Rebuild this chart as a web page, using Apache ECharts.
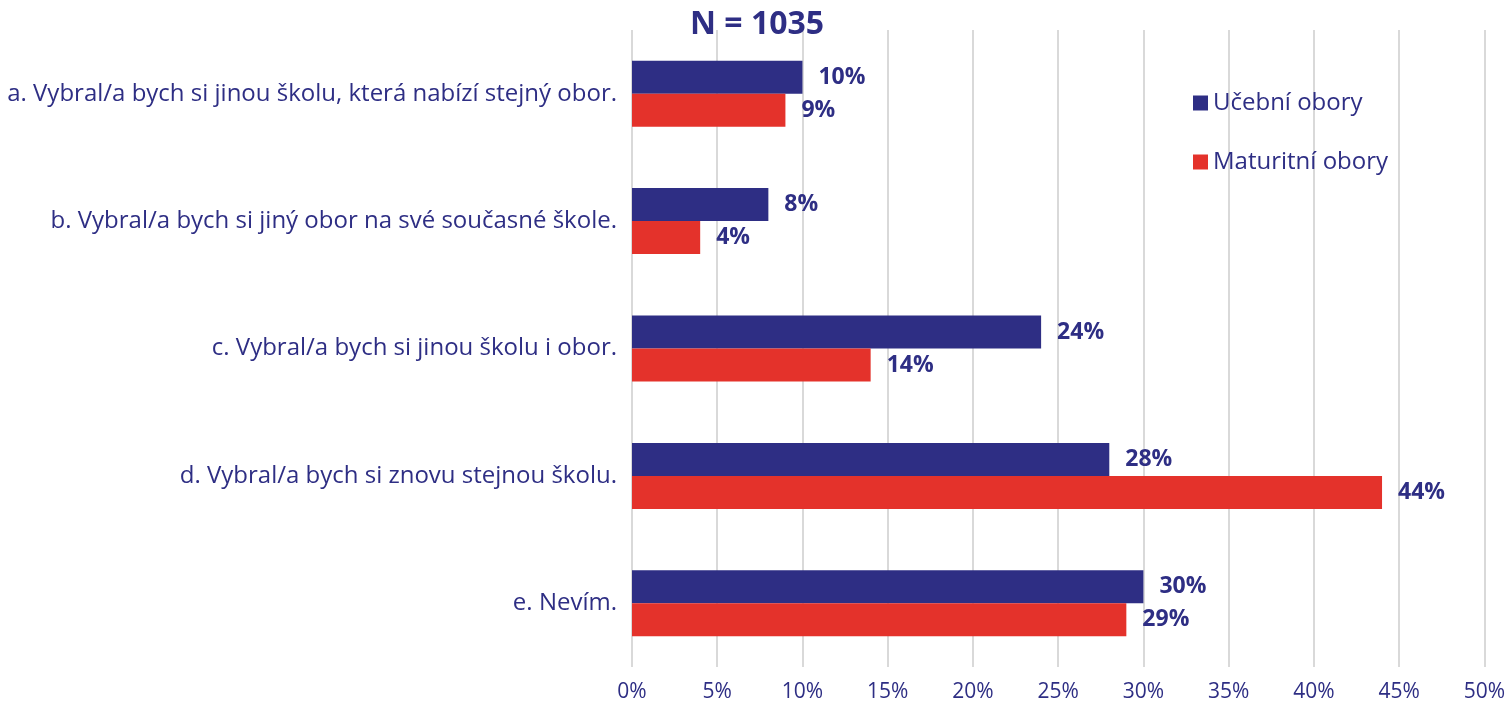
<!DOCTYPE html>
<html>
<head>
<meta charset="utf-8">
<script src="https://cdn.jsdelivr.net/npm/echarts@6/dist/echarts.min.js"></script>
<style>
  html, body { margin: 0; padding: 0; background: #fff; }
  #chart { width: 1508px; height: 706px; }
</style>
</head>
<body>
<div id="chart"></div>
<script>
const categories = [
  "a. Vybral/a bych si jinou školu, která nabízí stejný obor.",
  "b. Vybral/a bych si jiný obor na své současné škole.",
  "c. Vybral/a bych si jinou školu i obor.",
  "d. Vybral/a bych si znovu stejnou školu.",
  "e. Nevím."
];
const ucebni = [10, 8, 24, 28, 30];
const maturitni = [9, 4, 14, 44, 29];
const xTicks = [0, 5, 10, 15, 20, 25, 30, 35, 40, 45, 50];

const navy = "#2e2e84";
const red = "#e4322b";
const font = "Open Sans";

const chart = echarts.init(document.getElementById("chart"));

const labelStyle = {
  show: true,
  position: "right",
  distance: 16,
  formatter: "{c}%",
  color: navy,
  fontFamily: font,
  fontWeight: "bold",
  fontSize: 23
};

chart.setOption({
  animation: false,
  title: {
    text: "N = 1035",
    left: 752,
    textAlign: "center",
    top: 4,
    textStyle: { color: navy, fontFamily: font, fontWeight: "bold", fontSize: 32 }
  },
  legend: {
    orient: "vertical",
    left: 1188,
    top: 86,
    itemWidth: 15,
    itemHeight: 15,
    itemGap: 35,
    icon: "rect",
    textStyle: { color: navy, fontFamily: font, fontSize: 24 },
    data: ["Učební obory", "Maturitní obory"]
  },
  grid: { left: 632, right: 23, top: 30, bottom: 39, containLabel: false },
  xAxis: {
    type: "value",
    min: xTicks[0],
    max: xTicks[xTicks.length - 1],
    interval: 5,
    axisLine: { show: false },
    axisTick: { show: false },
    splitLine: { lineStyle: { color: "#d9d9d9", width: 2 } },
    axisLabel: {
      formatter: "{value}%",
      color: navy,
      fontFamily: font,
      fontSize: 21,
      margin: 15
    }
  },
  yAxis: {
    type: "category",
    inverse: true,
    data: categories,
    axisLine: { show: false },
    axisTick: { show: false },
    axisLabel: { color: navy, fontFamily: font, fontSize: 24, margin: 15 }
  },
  series: [
    {
      name: "Učební obory",
      type: "bar",
      data: ucebni,
      barWidth: 33,
      barGap: "0%",
      itemStyle: { color: navy },
      label: labelStyle
    },
    {
      name: "Maturitní obory",
      type: "bar",
      data: maturitni,
      barWidth: 33,
      barGap: "0%",
      itemStyle: { color: red },
      label: labelStyle
    }
  ]
});
</script>
</body>
</html>
